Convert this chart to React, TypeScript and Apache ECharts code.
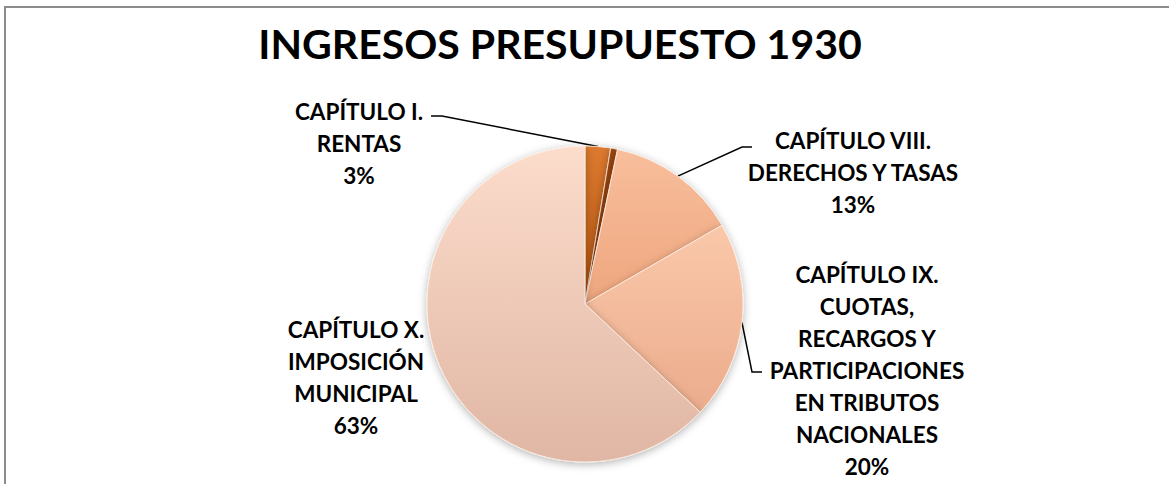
import React, { useEffect, useRef } from "react";
import * as echarts from "echarts";

const TITLE = "INGRESOS PRESUPUESTO 1930";
const categories = [
  "CAPÍTULO I.\nRENTAS",
  "OTROS",
  "CAPÍTULO VIII.\nDERECHOS Y TASAS",
  "CAPÍTULO IX.\nCUOTAS,\nRECARGOS Y\nPARTICIPACIONES\nEN TRIBUTOS\nNACIONALES",
  "CAPÍTULO X.\nIMPOSICIÓN\nMUNICIPAL",
];
const values = [2.6, 0.7, 13.4, 20.3, 63.0];
const showLabel = [true, false, true, true, true];

// styling (not data)
const sliceColors: [string, string][] = [
  ["#DC7A30", "#B4530E"],
  ["#9A4510", "#7E360A"],
  ["#F8BE9C", "#EEA67E"],
  ["#FAC8AA", "#EBAC8C"],
  ["#FCDCCB", "#E0B6A4"],
];
const labelCenters: [number, number][] = [
  [359, 143],
  [0, 0],
  [853, 172],
  [867, 370],
  [356, 377],
];
const leaderTails: ([number, number][] | null)[] = [
  [[442, 116], [431, 116]],
  null,
  [[742, 147], [752, 147]],
  [[752, 372], [762, 372]],
  null,
];

export default function App() {
  const ref = useRef<HTMLDivElement>(null);
  useEffect(() => {
    document.body.style.margin = "0";
    if (!ref.current) return;
    const chart = echarts.init(ref.current, undefined, { renderer: "svg" });
    const data = categories.map((name, i) => ({
      name,
      value: values[i],
      itemStyle: {
        color: new echarts.graphic.LinearGradient(0, 0, 0, 1, [
          { offset: 0, color: sliceColors[i][0] },
          { offset: 1, color: sliceColors[i][1] },
        ]),
      },
      label: { show: showLabel[i] },
      labelLine: { show: leaderTails[i] !== null },
    }));
    chart.setOption({
      animation: false,
      backgroundColor: "#ffffff",
      graphic: [
        {
          type: "rect",
          shape: { x: 5, y: 7, width: 1300, height: 700 },
          style: { fill: "none", stroke: "#8c8c8c", lineWidth: 2 },
          silent: true,
        },
        {
          type: "text",
          x: 560,
          y: 43,
          style: {
            text: TITLE,
            fontFamily: "Lato",
            fontWeight: "bold",
            fontSize: 41,
            fill: "#000000",
            textAlign: "center",
            textVerticalAlign: "middle",
          },
        },
      ],
      series: [
        {
          type: "pie",
          center: [585, 304],
          radius: 158,
          startAngle: 90,
          clockwise: true,
          data,
          itemStyle: {
            borderColor: "rgba(255,240,230,0.8)",
            borderWidth: 1,
            shadowBlur: 8,
            shadowOffsetY: 2,
            shadowColor: "rgba(0,0,0,0.3)",
          },
          label: {
            position: "outside",
            formatter: (p: any) => `${p.name}\n${Math.round(p.percent)}%`,
            fontFamily: "Lato",
            fontWeight: "bold",
            fontSize: 22.5,
            lineHeight: 32,
            color: "#000000",
            align: "center",
          },
          labelLine: {
            show: true,
            lineStyle: { color: "#000000", width: 1.5 },
          },
          labelLayout: (p: any) => {
            const i = p.dataIndex;
            const c = labelCenters[i];
            const res: any = {
              x: c[0],
              y: c[1],
              align: "center",
              verticalAlign: "middle",
            };
            const tail = leaderTails[i];
            if (tail && p.labelLinePoints) {
              res.labelLinePoints = [p.labelLinePoints[0], tail[0], tail[1]];
            }
            return res;
          },
        },
      ],
    });
    return () => chart.dispose();
  }, []);
  return <div ref={ref} style={{ width: 1169, height: 484 }} />;
}
